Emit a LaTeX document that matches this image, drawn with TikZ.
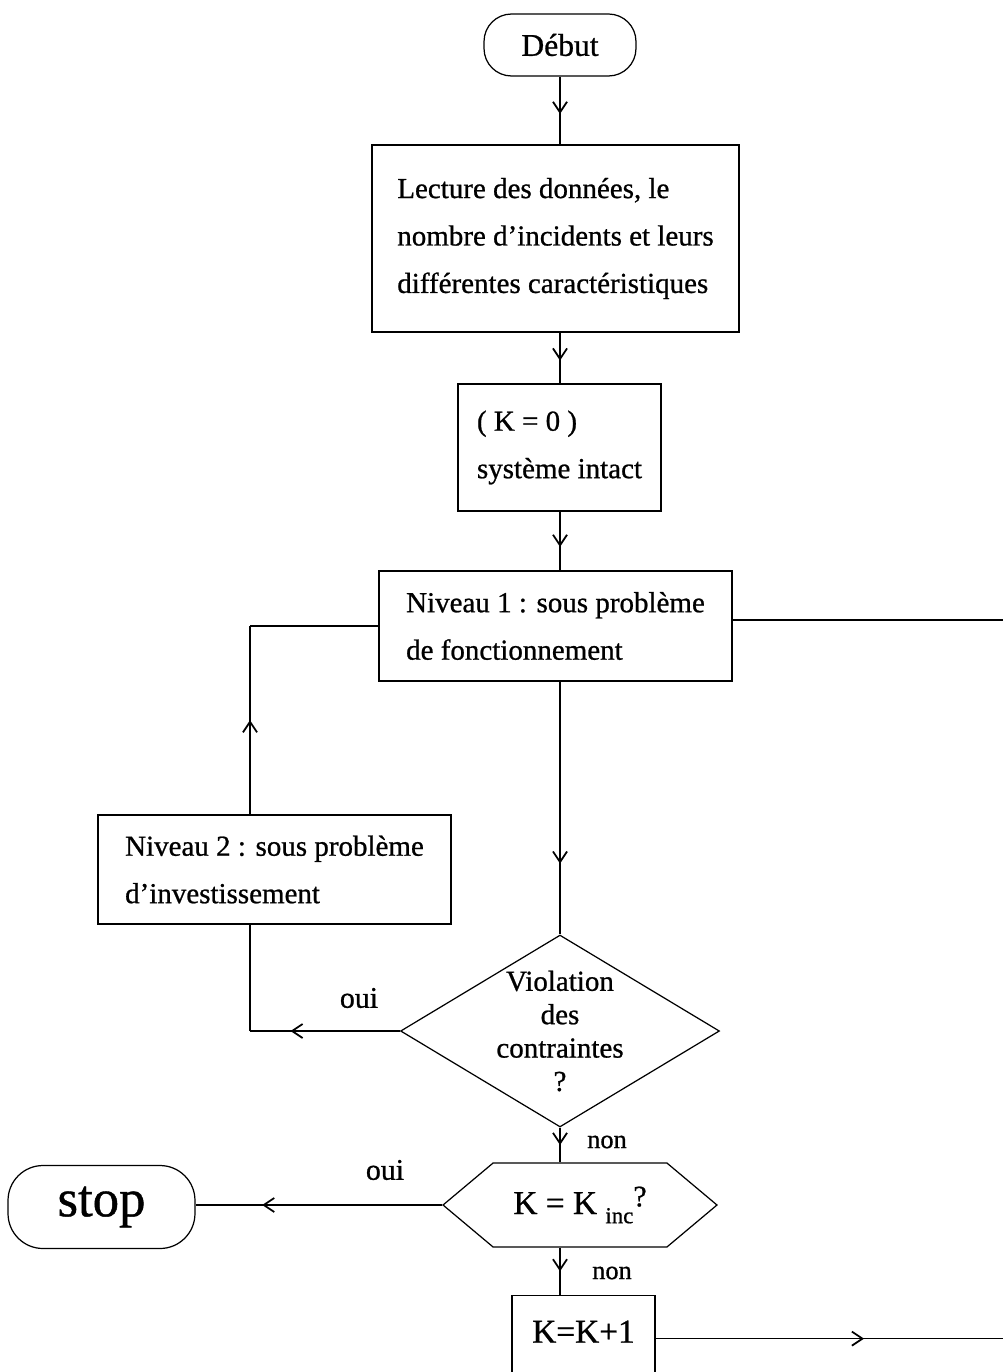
\documentclass[tikz,border=0pt]{standalone}
\usepackage{fontspec}
\setmainfont{Liberation Serif}[FakeBold=0.8]
\usetikzlibrary{arrows.meta,shapes.geometric,shapes.symbols,decorations.markings}
\tikzset{
  boite/.style={draw,rectangle,inner sep=0pt,align=left,font=\fontsize{16.5}{27}\selectfont},
  terminal/.style={draw,rectangle,rounded corners=#1,inner sep=0pt},
  midarrow/.style={postaction={decorate},decoration={markings,
      mark=at position #1 with {\arrow{Straight Barb[length=6pt,width=8pt,line width=1pt]}}}},
  lbl/.style={inner sep=0pt,font=\fontsize{17}{17}\selectfont},
}
\begin{document}
\begin{tikzpicture}[x=0.02cm,y=-0.02cm,line width=0.7pt]
\useasboundingbox (0,0) rectangle (1003,1372);
\clip (0,0) rectangle (1003,1372);
% ---------- blocs ----------
\node[terminal=0.55cm,minimum width=3.04cm,minimum height=1.24cm,
      font=\fontsize{18}{18}\selectfont] (debut) at (560,45) {Début};
\node[boite,minimum width=7.34cm,minimum height=3.74cm] (lecture) at (555.5,238.5)
  {Lecture des données, le\\nombre d'incidents et leurs\\différentes caractéristiques};
\node[boite,minimum width=4.06cm,minimum height=2.54cm] (intact) at (559.5,447.5)
  {( K = 0 )\\système intact};
\node[boite,minimum width=7.06cm,minimum height=2.2cm] (niv1) at (555.5,626)
  {Niveau 1 : sous problème\\de fonctionnement};
\node[boite,minimum width=7.06cm,minimum height=2.18cm] (niv2) at (274.5,869.5)
  {Niveau 2 : sous problème\\d'investissement};
\node[draw,diamond,aspect=1.66,inner sep=-8pt,minimum width=6.38cm,minimum height=3.84cm,
      align=center,font=\fontsize{16.5}{19}\selectfont] (violation) at (560,1031)
  {Violation\\des\\contraintes\\?};
\node[draw,signal,signal to=west and east,signal pointer angle=80,inner sep=0pt,
      minimum width=5.48cm,minimum height=1.68cm,font=\fontsize{19}{19}\selectfont] (kinc) at (580,1205)
  {K = K\ \raisebox{-0.6ex}{\fontsize{13}{13}\selectfont inc}\raisebox{0.5ex}{\fontsize{17}{17}\selectfont ?}};
\node[terminal=0.7cm,minimum width=3.74cm,minimum height=1.66cm,
      font=\fontsize{30}{30}\selectfont] (stop) at (101.5,1207) {stop};
\node[draw,rectangle,anchor=north,minimum width=2.86cm,inner ysep=0.5cm,text depth=2cm,
      font=\fontsize{19}{19}\selectfont] (kplus) at (583.5,1295) {K=K+1};
% ---------- points libres ----------
\coordinate (coinH) at (250,626);
\coordinate (coinB) at (250,1031);
\coordinate (bordA) at (1003,620);
\coordinate (bordB) at (1003,1333);
% ---------- liaisons ----------
\draw[midarrow=0.55] (debut.south) -- (debut.south |- lecture.north);
\draw[midarrow=0.55] (lecture.south -| debut.south) -- (debut.south |- intact.north);
\draw[midarrow=0.6] (intact.south -| debut.south) -- (debut.south |- niv1.north);
\draw[midarrow=0.72] (niv1.south -| debut.south) -- (violation.north);
\draw[midarrow=0.5] (niv2.north -| coinH) -- (coinH);
\draw (coinH) -- (niv1.west);
\draw[midarrow=0.73] (violation.west) -- (coinB);
\draw (coinB) -- (niv2.south -| coinB);
\draw[midarrow=0.5] (violation.south) -- (violation.south |- kinc.north);
\draw[midarrow=0.73] (kinc.west) -- (kinc.west -| stop.east);
\draw[midarrow=0.5] (kinc.south -| violation.south) -- (kplus.north -| violation.south);
\draw (niv1.east |- bordA) -- (bordA);
\draw[midarrow=0.6] (kplus.mid east) -- (kplus.mid east -| bordB);
% ---------- etiquettes ----------
\node[lbl] (oui1) at (359,998) {oui};
\node[lbl] (oui2) at (385,1170) {oui};
\node[lbl,font=\fontsize{15}{15}\selectfont] (non1) at (607,1142) {non};
\node[lbl,font=\fontsize{15}{15}\selectfont] (non2) at (612,1273) {non};
\end{tikzpicture}
\end{document}
